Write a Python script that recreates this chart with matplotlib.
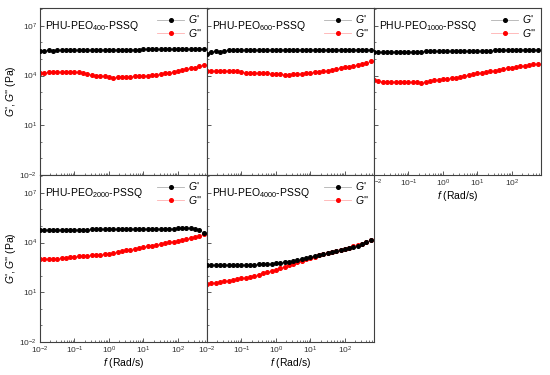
import numpy as np
import matplotlib
matplotlib.use("Agg")
import matplotlib.pyplot as plt
from matplotlib.ticker import FixedLocator, LogLocator, NullFormatter, LogFormatterSciNotation

plt.rcParams['font.family'] = ['Liberation Sans', 'DejaVu Sans']
plt.rcParams['mathtext.fontset'] = 'custom'
plt.rcParams['mathtext.rm'] = 'Liberation Sans'
plt.rcParams['mathtext.it'] = 'Liberation Sans:italic'

# angular frequency grid (rad/s), 8 points per decade
freq = np.logspace(-2, 2.75, 39)

# moduli, given as log10(Pa)
samples = ['400', '600', '1000', '2000', '4000']

g1_400 = [5.51, 5.51, 5.52, 5.51, 5.52, 5.52, 5.53, 5.52, 5.53, 5.53,
          5.53, 5.54, 5.54, 5.54, 5.55, 5.55, 5.55, 5.56, 5.56, 5.56,
          5.56, 5.57, 5.57, 5.57, 5.58, 5.58, 5.58, 5.58, 5.59, 5.59,
          5.59, 5.60, 5.60, 5.60, 5.61, 5.61, 5.61, 5.62, 5.62]
g2_400 = [4.17, 4.18, 4.19, 4.20, 4.21, 4.22, 4.23, 4.23, 4.22, 4.19,
          4.15, 4.09, 4.03, 3.99, 3.96, 3.95, 3.93, 3.86, 3.92, 3.92,
          3.93, 3.94, 3.95, 3.96, 3.98, 4.00, 4.03, 4.06, 4.10, 4.13,
          4.17, 4.22, 4.28, 4.33, 4.38, 4.43, 4.48, 4.55, 4.62]

g1_600 = [5.32, 5.45, 5.47, 5.42, 5.50, 5.52, 5.53, 5.53, 5.53, 5.54,
          5.54, 5.54, 5.54, 5.54, 5.55, 5.55, 5.55, 5.55, 5.55, 5.55,
          5.56, 5.56, 5.56, 5.56, 5.56, 5.56, 5.56, 5.56, 5.57, 5.57,
          5.57, 5.57, 5.57, 5.57, 5.57, 5.57, 5.57, 5.56, 5.56]
g2_600 = [4.29, 4.30, 4.30, 4.30, 4.30, 4.29, 4.29, 4.28, 4.20, 4.17,
          4.16, 4.15, 4.14, 4.14, 4.13, 4.12, 4.11, 4.09, 4.06, 4.02,
          4.07, 4.10, 4.12, 4.14, 4.17, 4.20, 4.23, 4.26, 4.30, 4.35,
          4.40, 4.45, 4.49, 4.53, 4.57, 4.62, 4.68, 4.76, 4.87]

g1_1000 = [5.42, 5.42, 5.42, 5.43, 5.43, 5.43, 5.44, 5.44, 5.44, 5.45,
           5.45, 5.45, 5.46, 5.46, 5.46, 5.47, 5.47, 5.47, 5.48, 5.48,
           5.48, 5.49, 5.49, 5.49, 5.50, 5.50, 5.51, 5.51, 5.52, 5.52,
           5.53, 5.53, 5.54, 5.54, 5.55, 5.55, 5.56, 5.56, 5.57]
g2_1000 = [3.71, 3.67, 3.64, 3.63, 3.62, 3.62, 3.61, 3.61, 3.60, 3.60,
           3.59, 3.58, 3.62, 3.67, 3.71, 3.75, 3.79, 3.82, 3.85, 3.88,
           3.91, 3.95, 4.02, 4.09, 4.14, 4.18, 4.22, 4.26, 4.30, 4.35,
           4.39, 4.43, 4.47, 4.51, 4.55, 4.59, 4.63, 4.67, 4.72]

g1_2000 = [4.76, 4.76, 4.76, 4.77, 4.77, 4.77, 4.77, 4.78, 4.78, 4.78,
           4.78, 4.78, 4.79, 4.79, 4.79, 4.79, 4.80, 4.80, 4.80, 4.80,
           4.81, 4.81, 4.81, 4.82, 4.82, 4.82, 4.83, 4.83, 4.84, 4.84,
           4.85, 4.85, 4.86, 4.86, 4.87, 4.87, 4.85, 4.78, 4.56]
g2_2000 = [3.03, 3.02, 3.00, 2.99, 3.02, 3.06, 3.09, 3.12, 3.15, 3.17,
           3.19, 3.21, 3.23, 3.25, 3.28, 3.30, 3.34, 3.38, 3.43, 3.48,
           3.53, 3.58, 3.63, 3.67, 3.72, 3.77, 3.82, 3.86, 3.91, 3.96,
           4.01, 4.06, 4.11, 4.16, 4.21, 4.26, 4.32, 4.40, 4.52]

g1_4000 = [2.64, 2.64, 2.64, 2.64, 2.64, 2.64, 2.64, 2.65, 2.65, 2.65,
           2.66, 2.67, 2.68, 2.69, 2.70, 2.72, 2.74, 2.77, 2.81, 2.85,
           2.90, 2.96, 3.02, 3.08, 3.13, 3.19, 3.24, 3.29, 3.36, 3.43,
           3.50, 3.56, 3.62, 3.68, 3.74, 3.81, 3.90, 4.02, 4.18]
g2_4000 = [1.52, 1.56, 1.59, 1.63, 1.67, 1.71, 1.75, 1.79, 1.84, 1.89,
           1.95, 2.01, 2.07, 2.14, 2.21, 2.29, 2.37, 2.45, 2.53, 2.62,
           2.71, 2.80, 2.89, 2.98, 3.07, 3.16, 3.24, 3.31, 3.38, 3.45,
           3.52, 3.58, 3.64, 3.70, 3.77, 3.84, 3.92, 4.02, 4.14]

storage = [g1_400, g1_600, g1_1000, g1_2000, g1_4000]
loss = [g2_400, g2_600, g2_1000, g2_2000, g2_4000]

fig = plt.figure(figsize=(5.5, 3.75), dpi=100)

W, H = 167 / 550, 167 / 375
x0 = 40 / 550
tops = [1 - 8 / 375, 1 - 175 / 375]
spine_col = '#404040'

for i, name in enumerate(samples):
    row, col = divmod(i, 3)
    ax = fig.add_axes([x0 + col * W, tops[row] - H, W, H])
    ax.set_xscale('log')
    ax.set_yscale('log')

    # light connecting line, solid markers (like the Origin export)
    ax.plot(freq, 10 ** np.array(storage[i]), '-o', color='#b0b0b0', ms=2.6,
            lw=0.6, mfc='black', mec='black', label="$\\mathit{G}$'", zorder=3)
    ax.plot(freq, 10 ** np.array(loss[i]), '-o', color='#ffb0b0', ms=2.6,
            lw=0.6, mfc='red', mec='red', label="$\\mathit{G}$''", zorder=2)

    ax.set_xlim(1e-2, 7e2)
    ax.set_ylim(1e-2, 1.2e8)

    ax.yaxis.set_major_locator(FixedLocator([1e-2, 1e1, 1e4, 1e7]))
    ax.yaxis.set_minor_locator(FixedLocator([10.0 ** k for k in range(-2, 9)]))
    ax.yaxis.set_minor_formatter(NullFormatter())
    ax.xaxis.set_major_locator(FixedLocator([1e-2, 1e-1, 1e0, 1e1, 1e2]))
    ax.xaxis.set_minor_locator(LogLocator(base=10, subs=np.arange(2, 10), numticks=20))
    ax.xaxis.set_minor_formatter(NullFormatter())
    ax.yaxis.set_major_formatter(LogFormatterSciNotation())
    ax.xaxis.set_major_formatter(LogFormatterSciNotation())

    ax.tick_params(which='both', direction='in', top=False, right=False,
                   labelsize=6, colors=spine_col, labelcolor='#333333', pad=2)
    ax.tick_params(which='major', length=3, width=0.6)
    ax.tick_params(which='minor', length=1.6, width=0.5)
    for s in ax.spines.values():
        s.set_color(spine_col)
        s.set_linewidth(0.8)

    if col != 0:
        ax.tick_params(labelleft=False)
    else:
        ax.set_ylabel("$\\mathit{G}$', $\\mathit{G}$'' (Pa)", fontsize=7.5)
        ax.yaxis.set_label_coords(-22 / 167, 0.5)
    if row == 0 and col != 2:
        ax.tick_params(labelbottom=False)
    else:
        ax.set_xlabel("$\\mathit{f}$ (Rad/s)", fontsize=7.5)
        ax.xaxis.set_label_coords(0.5, -14 / 167)

    ax.text(0.03, 0.89, 'PHU-PEO$_{%s}$-PSSQ' % name, transform=ax.transAxes,
            fontsize=7.5, va='center', ha='left')
    ax.legend(loc='upper right', frameon=False, fontsize=7.5,
              handlelength=2.6, handletextpad=0.4, labelspacing=0.15,
              borderaxespad=0.3, borderpad=0.2)

fig.savefig('out.png', dpi=100)
